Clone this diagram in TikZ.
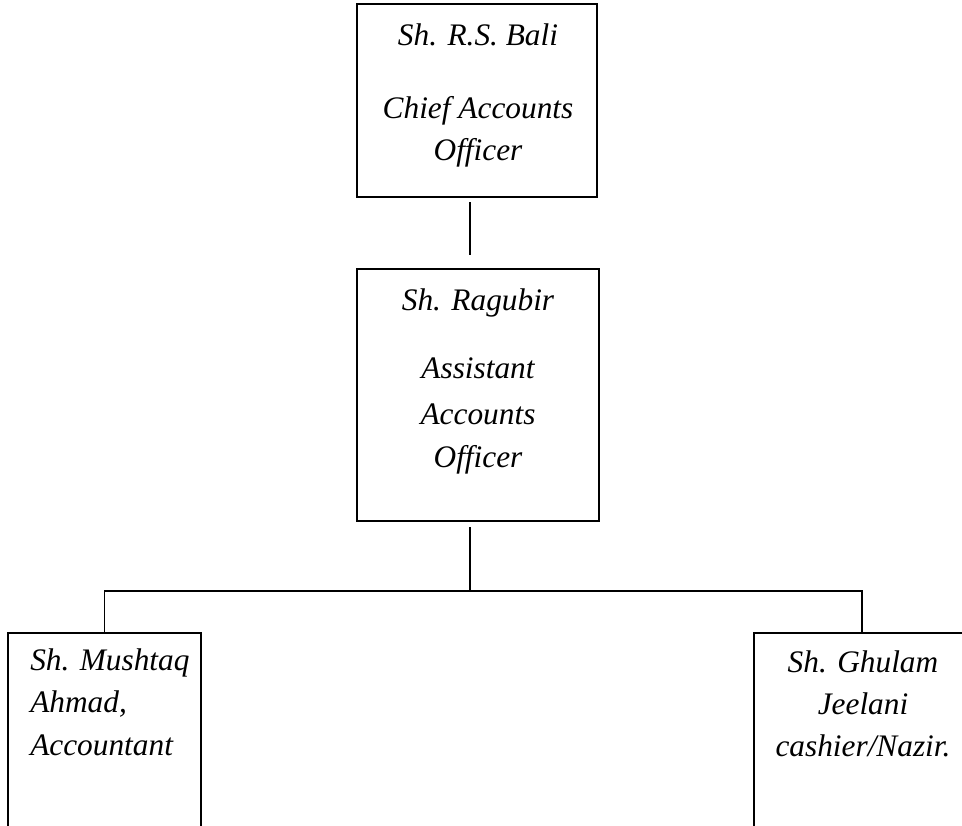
\documentclass[tikz,border=0pt]{standalone}
\usepackage{fontspec}
\setmainfont{Liberation Serif}
\begin{document}
\begin{tikzpicture}[x=0.75pt,y=-0.75pt,
  box/.style={draw=black,line width=1.4pt,inner sep=0pt,rectangle},
  wire/.style={draw=black,line width=1.4pt},
  txt/.style={inner sep=0pt,anchor=base,font=\fontsize{23.5}{28}\selectfont\itshape},
  txtl/.style={txt,anchor=base west}]
\useasboundingbox (0,0) rectangle (962,825);
% boxes
\node[box,minimum width=180pt,minimum height=144.75pt] (top) at (477,100.5) {};
\node[box,minimum width=181.5pt,minimum height=189pt] (mid) at (478,395) {};
\node[box,minimum width=144.75pt,minimum height=147pt] (left) at (104.5,731) {};
\node[box,minimum width=162pt,minimum height=147pt] (right) at (862,731) {};
% texts
\node[txt] (t1) at (478,45) {Sh. R.S. Bali};
\node[txt] (t2) at (478,118) {Chief Accounts};
\node[txt] (t3) at (478,160) {Officer};
\node[txt] (m1) at (478,310) {Sh. Ragubir};
\node[txt] (m2) at (478,378) {Assistant};
\node[txt] (m3) at (478,424) {Accounts};
\node[txt] (m4) at (478,467) {Officer};
\node[txtl] (l1) at (30,670) {Sh. Mushtaq};
\node[txtl] (l2) at (30,712) {Ahmad,};
\node[txtl] (l3) at (30,755) {Accountant};
\node[txt] (r1) at (863,672) {Sh. Ghulam};
\node[txt] (r2) at (863,714) {Jeelani};
\node[txt] (r3) at (863,756) {cashier/Nazir.};
% connectors
\coordinate (c1a) at (470,202);
\coordinate (c1b) at (470,255);
\coordinate (c2a) at (470,527);
\coordinate (bus) at (470,591);
\draw[wire] (c1a) -- (c1b);
\draw[wire] (c2a) -- (bus);
\draw[wire] (left.north) -- (left.north |- bus) -- (right.north |- bus) -- (right.north);
\end{tikzpicture}
\end{document}
